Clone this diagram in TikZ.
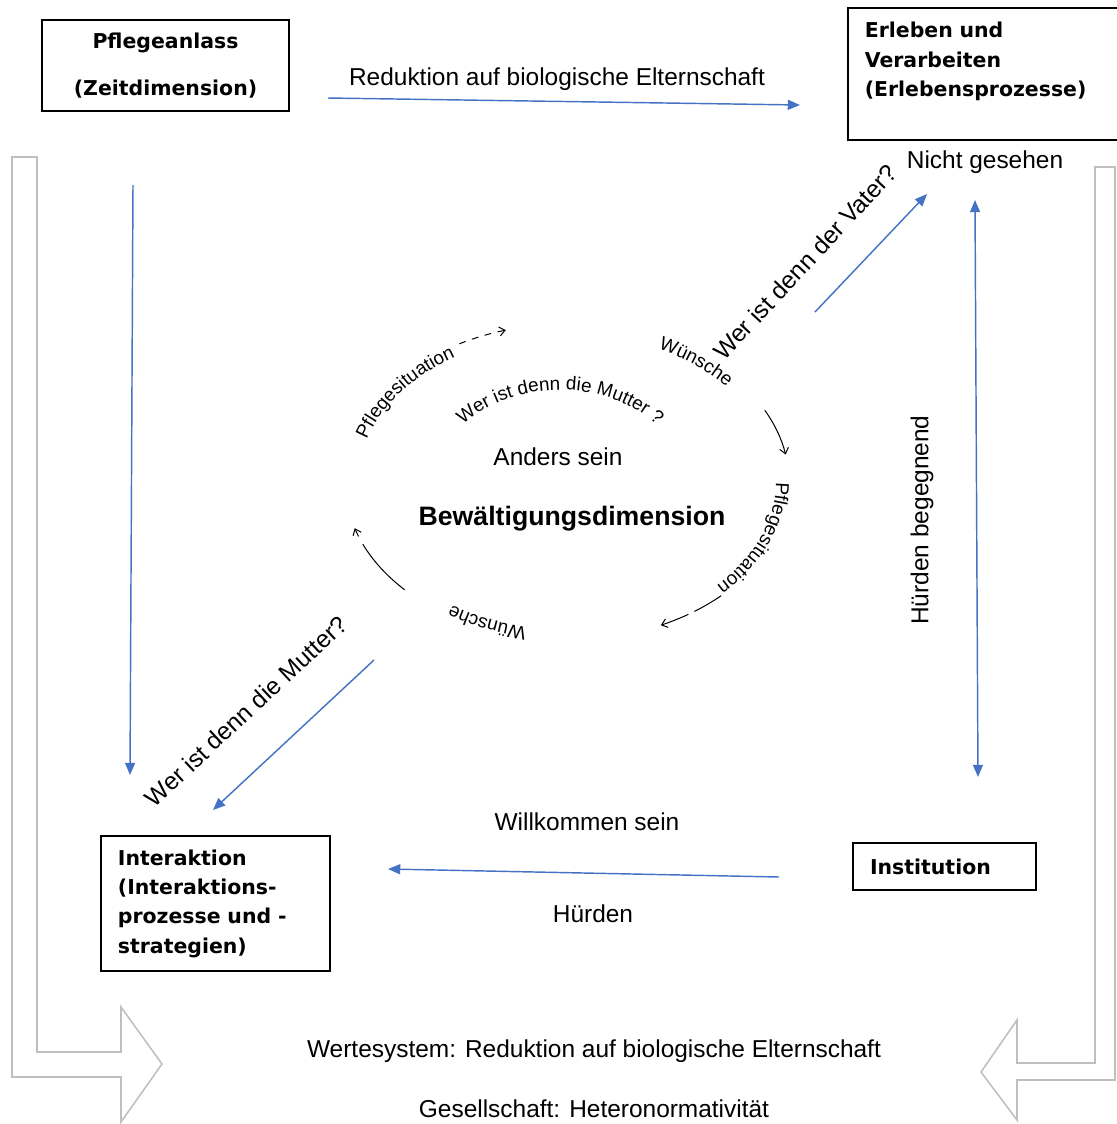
\documentclass[tikz,border=0pt]{standalone}
\usepackage{fontspec}
\setmainfont{Liberation Sans}
\newfontfamily\boxfont{DejaVu Sans}
\usetikzlibrary{arrows.meta,decorations.text}
\definecolor{flowblue}{HTML}{4472C4}
\definecolor{hollowgray}{HTML}{BFBFBF}
\newcommand{\cyc}{\fontsize{8.5}{10}\selectfont}

\begin{document}
\begin{tikzpicture}[x=0.45pt,y=-0.45pt]
\tikzstyle{box}=[draw,line width=0.9pt,font={\boxfont\bfseries\fontsize{9.2}{13.2}\selectfont},inner xsep=7.6pt]
\tikzstyle{txt}=[font={\fontsize{11}{13}\selectfont},inner sep=0pt]
\tikzstyle{flow}=[draw=flowblue,line width=0.65pt,-{Triangle[length=5.5pt,width=4.5pt]}]
\tikzstyle{cyc}=[line width=0.45pt,-{Straight Barb[length=2.5pt,width=4pt]}]
\tikzstyle{hollow}=[draw=hollowgray,line width=0.7pt]
\tikzstyle{curved}=[decorate,decoration={text along path,text align=center}]

\useasboundingbox (0,0) rectangle (1117,1124);

% hollow arrows at the sides
\draw[hollow] (12,157) -- (12,1077) -- (121,1077) -- (121,1122) -- (162,1064) -- (121,1007) -- (121,1052) -- (37,1052) -- (37,157) -- cycle;
\draw[hollow] (1115,167) -- (1115,1080) -- (1017,1080) -- (1017,1120) -- (981,1072) -- (1017,1020) -- (1017,1063) -- (1095,1063) -- (1095,167) -- cycle;

% boxes
\node[box,minimum width=111.2pt,minimum height=41pt,align=center] (anlass) at (165.5,65.5) {Pflegeanlass\\[8pt](Zeitdimension)};
\node[box,minimum width=124.7pt,minimum height=59.4pt,text width=109.5pt,align=left] (erleben) at (986.5,74) {Erleben und\\Verarbeiten\\(Erlebensprozesse)\\\mbox{}};
\node[box,minimum width=103pt,minimum height=60.75pt,text width=87.8pt,align=left] (interaktion) at (215.5,903.5) {Interaktion\\(Interaktions-\\prozesse und -\\strategien)};
\node[box,minimum width=82.35pt,minimum height=21.15pt,text width=67pt,align=left] (institution) at (944.5,866.5) {Institution};

% blue connectors
\coordinate (topStart) at (328,98);
\coordinate (topEnd) at (800,105);
\coordinate (leftStart) at (133,185);
\coordinate (leftEnd) at (130,775);
\coordinate (vaterStart) at (815,312);
\coordinate (vaterEnd) at (927,194);
\coordinate (rightTop) at (975,200);
\coordinate (rightBottom) at (978,777);
\coordinate (mutterStart) at (374,660);
\coordinate (mutterEnd) at (213,810);
\coordinate (bottomStart) at (779,877);
\coordinate (bottomEnd) at (388,869);

\draw[flow] (topStart) -- (topEnd);
\draw[flow] (leftStart) -- (leftEnd);
\draw[flow] (vaterStart) -- (vaterEnd);
\draw[flow,{Triangle[length=5.5pt,width=4.5pt]}-{Triangle[length=5.5pt,width=4.5pt]}] (rightTop) -- (rightBottom);
\draw[flow] (mutterStart) -- (mutterEnd);
\draw[flow] (bottomStart) -- (bottomEnd);

% labels
\node[txt] (reduktion) at (557,79) {Reduktion auf biologische Elternschaft};
\node[txt] (nichtGesehen) at (985,162) {Nicht gesehen};
\node[txt,rotate=47] (vater) at (805,262) {Wer ist denn der Vater?};
\node[txt,rotate=90] (begegnend) at (922,520) {Hürden begegnend};
\node[txt,rotate=43] (mutter) at (246,711) {Wer ist denn die Mutter?};
\node[txt] (willkommen) at (587,822) {Willkommen sein};
\node[txt] (huerden) at (593,914) {Hürden};
\node[txt] (anders) at (558,457) {Anders sein};
\node[txt,font={\bfseries\fontsize{12}{14}\selectfont}] (bewaeltigung) at (572,519) {Bewältigungsdimension};
\node[txt] (werte) at (594,1051) {Wertesystem: Reduktion auf biologische Elternschaft};
\node[txt] (gesellschaft) at (594,1109) {Gesellschaft: Heteronormativität};

% circle of the Bewaeltigungsdimension
\coordinate (mid) at (567,482);
\coordinate (inner) at (560,485);
\path[curved,decoration={text={|\cyc|Pflegesituation}}] ([shift={(mid)}]186:209 and 148) arc[start angle=186,end angle=246,x radius=209,y radius=148];
\path[curved,decoration={text={|\cyc|Wünsche}}] ([shift={(mid)}]285:209 and 148) arc[start angle=285,end angle=333,x radius=209,y radius=148];
\path[curved,decoration={text={|\cyc|Pflegesituation}}] ([shift={(mid)}]-12:209 and 148) arc[start angle=-12,end angle=54,x radius=209,y radius=148];
\path[curved,decoration={text={|\cyc|Wünsche}}] ([shift={(mid)}]90:209 and 148) arc[start angle=90,end angle=136,x radius=209,y radius=148];
\path[curved,decoration={text={|\cyc|Wer ist denn die Mutter ?}}] ([shift={(inner)}]200:125 and 95) arc[start angle=200,end angle=340,x radius=125,y radius=95];

\draw[cyc,dashed] ([shift={(mid)}]241:222 and 158) arc[start angle=241,end angle=254,x radius=222,y radius=158];
\draw[cyc] ([shift={(mid)}]333:222 and 158) arc[start angle=333,end angle=350,x radius=222,y radius=158];
\draw[cyc,dash pattern=on 14pt off 3pt] ([shift={(mid)}]46:222 and 158) arc[start angle=46,end angle=65,x radius=222,y radius=158];
\draw[cyc,dash pattern=on 28pt off 4pt] ([shift={(mid)}]137:222 and 158) arc[start angle=137,end angle=163,x radius=222,y radius=158];

\end{tikzpicture}
\end{document}
